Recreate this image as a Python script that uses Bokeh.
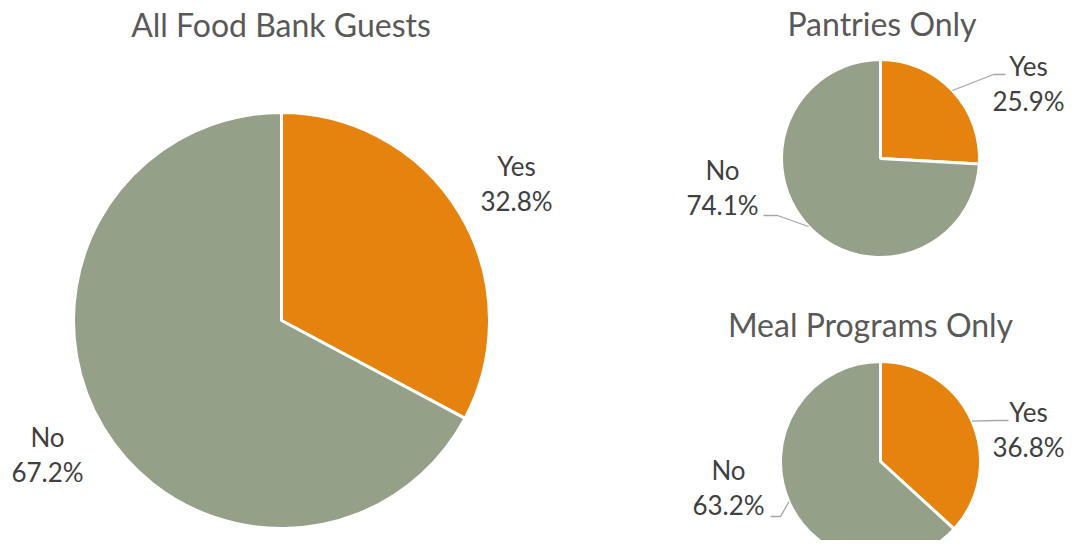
import math
from bokeh.plotting import figure
from bokeh.models import Range1d, ColumnDataSource
from bokeh.core.properties import value
from bokeh.embed import file_html
from bokeh.resources import INLINE

# ---- data ----
chart_titles = ["All Food Bank Guests", "Pantries Only", "Meal Programs Only"]
categories = ["Yes", "No"]
yes_pct = [32.8, 25.9, 36.8]
no_pct = [67.2, 74.1, 63.2]

# ---- styles / layout (reference pixel coordinates) ----
COLORS = {"Yes": "#E6830F", "No": "#94A188"}
FONT = "Lato"
TITLE_COLOR = "#595959"
LABEL_COLOR = "#404040"
LEADER_COLOR = "#A6A6A6"
FIG_W, FIG_H = 1065, 540
TEXT_SHIFT = -11  # baseline correction for the renderer

layout = [
    dict(cx=281, cy=320, r=208, title=(280.5, 35),
         labels={"Yes": (516, 176), "No": (47, 447)}, leaders={}),
    dict(cx=880, cy=158, r=99, title=(881.5, 34),
         labels={"Yes": (1028, 76), "No": (722, 180)},
         leaders={"Yes": [(993, 74), (1005, 74)], "No": [(777, 215), (763, 215)]}),
    dict(cx=880, cy=461, r=100, title=(870, 335),
         labels={"Yes": (1028, 422), "No": (728, 480)},
         leaders={"Yes": [(995, 420), (1008, 420)], "No": [(780, 516), (770, 516)]}),
]

def Y(py):
    return FIG_H - py

p = figure(width=FIG_W, height=FIG_H, output_backend="svg", toolbar_location=None,
           x_range=Range1d(0, FIG_W), y_range=Range1d(0, FIG_H),
           min_border=0, outline_line_color=None)
p.axis.visible = False
p.grid.visible = False
p.background_fill_color = "white"
p.border_fill_color = "white"

wx, wy, wr, ws, we, wc = [], [], [], [], [], []
tx, ty, tt = [], [], []
lx, ly = [], []

for i, lay in enumerate(layout):
    vals = {"Yes": yes_pct[i], "No": no_pct[i]}
    start = 90.0  # first slice starts at 12 o'clock, going clockwise
    for cat in categories:
        sweep = vals[cat] * 3.6
        s_ang, e_ang = start - sweep, start
        wx.append(lay["cx"]); wy.append(Y(lay["cy"])); wr.append(lay["r"])
        ws.append(math.radians(s_ang)); we.append(math.radians(e_ang))
        wc.append(COLORS[cat])
        mid = math.radians(start - sweep / 2)
        start -= sweep
        lxp, lyp = lay["labels"][cat]
        tx += [lxp, lxp]
        ty += [Y(lyp + TEXT_SHIFT), Y(lyp + 35 + TEXT_SHIFT)]
        tt += [cat, f"{vals[cat]:.1f}%"]
        if cat in lay["leaders"]:
            ex = lay["cx"] + lay["r"] * math.cos(mid)
            ey = lay["cy"] - lay["r"] * math.sin(mid)
            pts = [(ex, ey)] + lay["leaders"][cat]
            lx.append([q[0] for q in pts]); ly.append([Y(q[1]) for q in pts])

p.wedge(x="x", y="y", radius="r", start_angle="s", end_angle="e",
        fill_color="c", line_color="white", line_width=3,
        source=ColumnDataSource(dict(x=wx, y=wy, r=wr, s=ws, e=we, c=wc)))

p.multi_line(xs=lx, ys=ly, line_color=LEADER_COLOR, line_width=1.3)

p.text(x=tx, y=ty, text=tt, text_align="center", text_baseline="alphabetic",
       text_font=value(FONT), text_font_size=value("26px"), text_color=LABEL_COLOR)

p.text(x=[l["title"][0] for l in layout],
       y=[Y(l["title"][1] + TEXT_SHIFT) for l in layout],
       text=chart_titles, text_align="center", text_baseline="alphabetic",
       text_font=value(FONT), text_font_size=value("32px"), text_color=TITLE_COLOR)

open("out.html", "w").write(file_html(p, INLINE))
